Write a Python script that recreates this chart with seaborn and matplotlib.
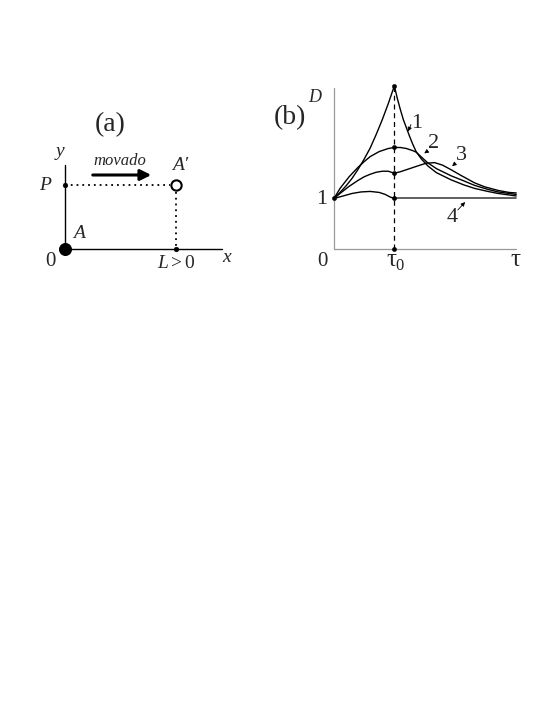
import matplotlib
matplotlib.use("Agg")
import matplotlib.pyplot as plt
import seaborn as sns

W, H = 545, 705

# panel (b): curves D(tau), tau in units of tau0
tau_c1 = [0, 0.1, 0.2, 0.3, 0.4, 0.5, 0.6, 0.7, 0.8, 0.9, 1.0,
          1.05, 1.1, 1.15, 1.2, 1.25, 1.3, 1.36, 1.45, 1.56, 1.7, 1.94,
          2.15, 2.33, 2.55, 2.72, 2.9, 3.02]
d_c1 = [1.0, 1.12, 1.25, 1.40, 1.58, 1.78, 2.0, 2.27, 2.56, 2.88, 3.23,
        2.98, 2.76, 2.56, 2.40, 2.24, 2.09, 1.93, 1.78, 1.64, 1.51, 1.37,
        1.27, 1.20, 1.14, 1.10, 1.07, 1.05]

tau_c2 = [0, 0.1, 0.25, 0.4, 0.5, 0.6, 0.75, 0.9, 1.0, 1.1, 1.2, 1.3,
          1.36, 1.45, 1.55, 1.7, 1.94, 2.15, 2.33, 2.55, 2.72, 2.9, 3.02]
d_c2 = [1.0, 1.2, 1.43, 1.62, 1.73, 1.83, 1.93, 1.99, 2.01, 2.01, 1.99, 1.95,
        1.92, 1.82, 1.71, 1.59, 1.45, 1.35, 1.26, 1.18, 1.13, 1.10, 1.08]

tau_c3 = [0, 0.1, 0.25, 0.4, 0.5, 0.6, 0.7, 0.8, 0.9, 1.0, 1.1, 1.2, 1.3,
          1.4, 1.53, 1.67, 1.8, 1.94, 2.1, 2.33, 2.5, 2.72, 2.9, 3.02]
d_c3 = [1.0, 1.10, 1.24, 1.36, 1.43, 1.48, 1.52, 1.54, 1.54, 1.50, 1.53,
        1.57, 1.61, 1.65, 1.70, 1.71, 1.66, 1.57, 1.46, 1.31, 1.23, 1.16,
        1.12, 1.11]

tau_c4 = [0, 0.15, 0.3, 0.45, 0.6, 0.75, 0.85, 0.93, 1.0]
d_c4 = [1.0, 1.05, 1.10, 1.13, 1.14, 1.12, 1.08, 1.03, 1.0]
tau_c4_flat = [1.0, 3.02]
d_c4_flat = [1.0, 1.0]

dots_tau = [0, 1, 1, 1, 1, 1]
dots_d = [1.0, 3.23, 2.01, 1.50, 1.0, 0.0]

# panel (a): schematic points (x in units of L, y in units of P)
a_axis_x = [0, 1.41]
a_axis_y = [0, 1.31]
a_dotted_h = ([0, 0.95], [1, 1])
a_dotted_v = ([1, 1], [0.89, 0])
a_small_dots = ([0, 1], [1, 0])


def fig_ax(x0, x1, y_top, y_bot, xlim, ylim):
    ax = fig.add_axes([x0 / W, 1 - y_bot / H, (x1 - x0) / W, (y_bot - y_top) / H])
    ax.set_xlim(*xlim)
    ax.set_ylim(*ylim)
    ax.axis('off')
    return ax


def txt(x, y, s, size=14, style='normal', weight='normal', ha='center', va='center'):
    fig.text(x / W, 1 - y / H, s, fontsize=size, style=style, weight=weight,
             ha=ha, va=va, family=['Liberation Serif', 'DejaVu Serif'])


def arrow(x0, y0, x1, y1):
    fig.add_artist(matplotlib.patches.FancyArrowPatch(
        (x0 / W, 1 - y0 / H), (x1 / W, 1 - y1 / H), transform=fig.transFigure,
        arrowstyle='-|>', mutation_scale=6, lw=0.6, color='black'))


sns.set_theme(style="white")
plt.rcParams['font.family'] = ['Liberation Serif', 'DejaVu Serif']
plt.rcParams['mathtext.fontset'] = 'custom'
plt.rcParams['mathtext.rm'] = 'Liberation Serif'
plt.rcParams['mathtext.it'] = 'Liberation Serif:italic'

fig = plt.figure(figsize=(W / 100, H / 100), dpi=100)

# ---------- panel (b) ----------
axb = fig_ax(334, 515, 249 - 3.3 * 50.5, 249, (0, 3.0), (0, 3.3))
axb.plot([0, 0], [0, 3.19], color='#999999', lw=0.9, clip_on=False)
axb.plot([0, 3.02], [0, 0], color='#999999', lw=0.9, clip_on=False)
axb.plot([1, 1], [0, 3.23], color='black', lw=0.9, ls=(0, (4, 3)), clip_on=False)

curves = [(tau_c1, d_c1), (tau_c2, d_c2), (tau_c3, d_c3), (tau_c4, d_c4)]
for t, d in curves:
    sns.lineplot(x=t, y=d, ax=axb, color='black', lw=1.0, sort=False,
                 estimator=None, clip_on=False)
sns.lineplot(x=tau_c4_flat, y=d_c4_flat, ax=axb, color='#444444', lw=1.2,
             sort=False, estimator=None, clip_on=False)
sns.scatterplot(x=dots_tau, y=dots_d, ax=axb, color='black', s=10,
                edgecolor=None, zorder=5, clip_on=False)
axb.axis('off')

txt(290, 118, '(b)', size=20)
txt(315, 97, 'D', size=13, style='italic')
txt(322, 199, '1', size=16)
txt(322, 262, '0', size=15)
txt(391, 260, 'τ', size=18)
txt(399, 266, '0', size=12)
txt(515, 260, 'τ', size=18)

txt(417, 124, '1', size=16)
arrow(412, 122, 407, 134)
txt(434, 144, '2', size=16)
arrow(429, 150, 422, 155)
txt(461, 156, '3', size=16)
arrow(457, 162, 450, 168)
txt(452, 217, '4', size=16)
arrow(456, 212, 467, 200)

# ---------- panel (a) ----------
axa = fig_ax(65, 65 + 1.45 * 111, 249 - 1.35 * 64, 249, (0, 1.45), (0, 1.35))
axa.plot(a_axis_x, [0, 0], color='black', lw=1.0, clip_on=False)
axa.plot([0, 0], a_axis_y, color='black', lw=1.0, clip_on=False)
axa.plot(*a_dotted_h, color='black', lw=1.3, ls=(0, (1, 2.2)), clip_on=False)
axa.plot(*a_dotted_v, color='black', lw=1.3, ls=(0, (1, 2.2)), clip_on=False)
sns.scatterplot(x=a_small_dots[0], y=a_small_dots[1], ax=axa, color='black',
                s=12, edgecolor=None, zorder=5, clip_on=False)
sns.scatterplot(x=[0], y=[0], ax=axa, color='black', s=75, edgecolor=None,
                zorder=6, clip_on=False)
sns.scatterplot(x=[1], y=[1], ax=axa, facecolor='white', edgecolor='black',
                linewidth=1.5, s=55, zorder=6, clip_on=False)
axa.axis('off')
fig.add_artist(matplotlib.patches.FancyArrowPatch(
    (90 / W, 1 - 175 / H), (154 / W, 1 - 175 / H), transform=fig.transFigure,
    arrowstyle='-|>', mutation_scale=16, lw=2.2, color='black'))

txt(110, 125, '(a)', size=20)
txt(60, 151, 'y', size=14, style='italic')
txt(120, 161, 'movado', size=12, style='italic')
txt(180, 166, "A′", size=14, style='italic')
txt(45, 185, 'P', size=14, style='italic')
txt(79, 234, 'A', size=14, style='italic')
txt(50, 262, '0', size=15)
txt(176, 263, r'$L>0$', size=14)
txt(227, 257, 'x', size=14, style='italic')

fig.savefig('out.png', dpi=100)
